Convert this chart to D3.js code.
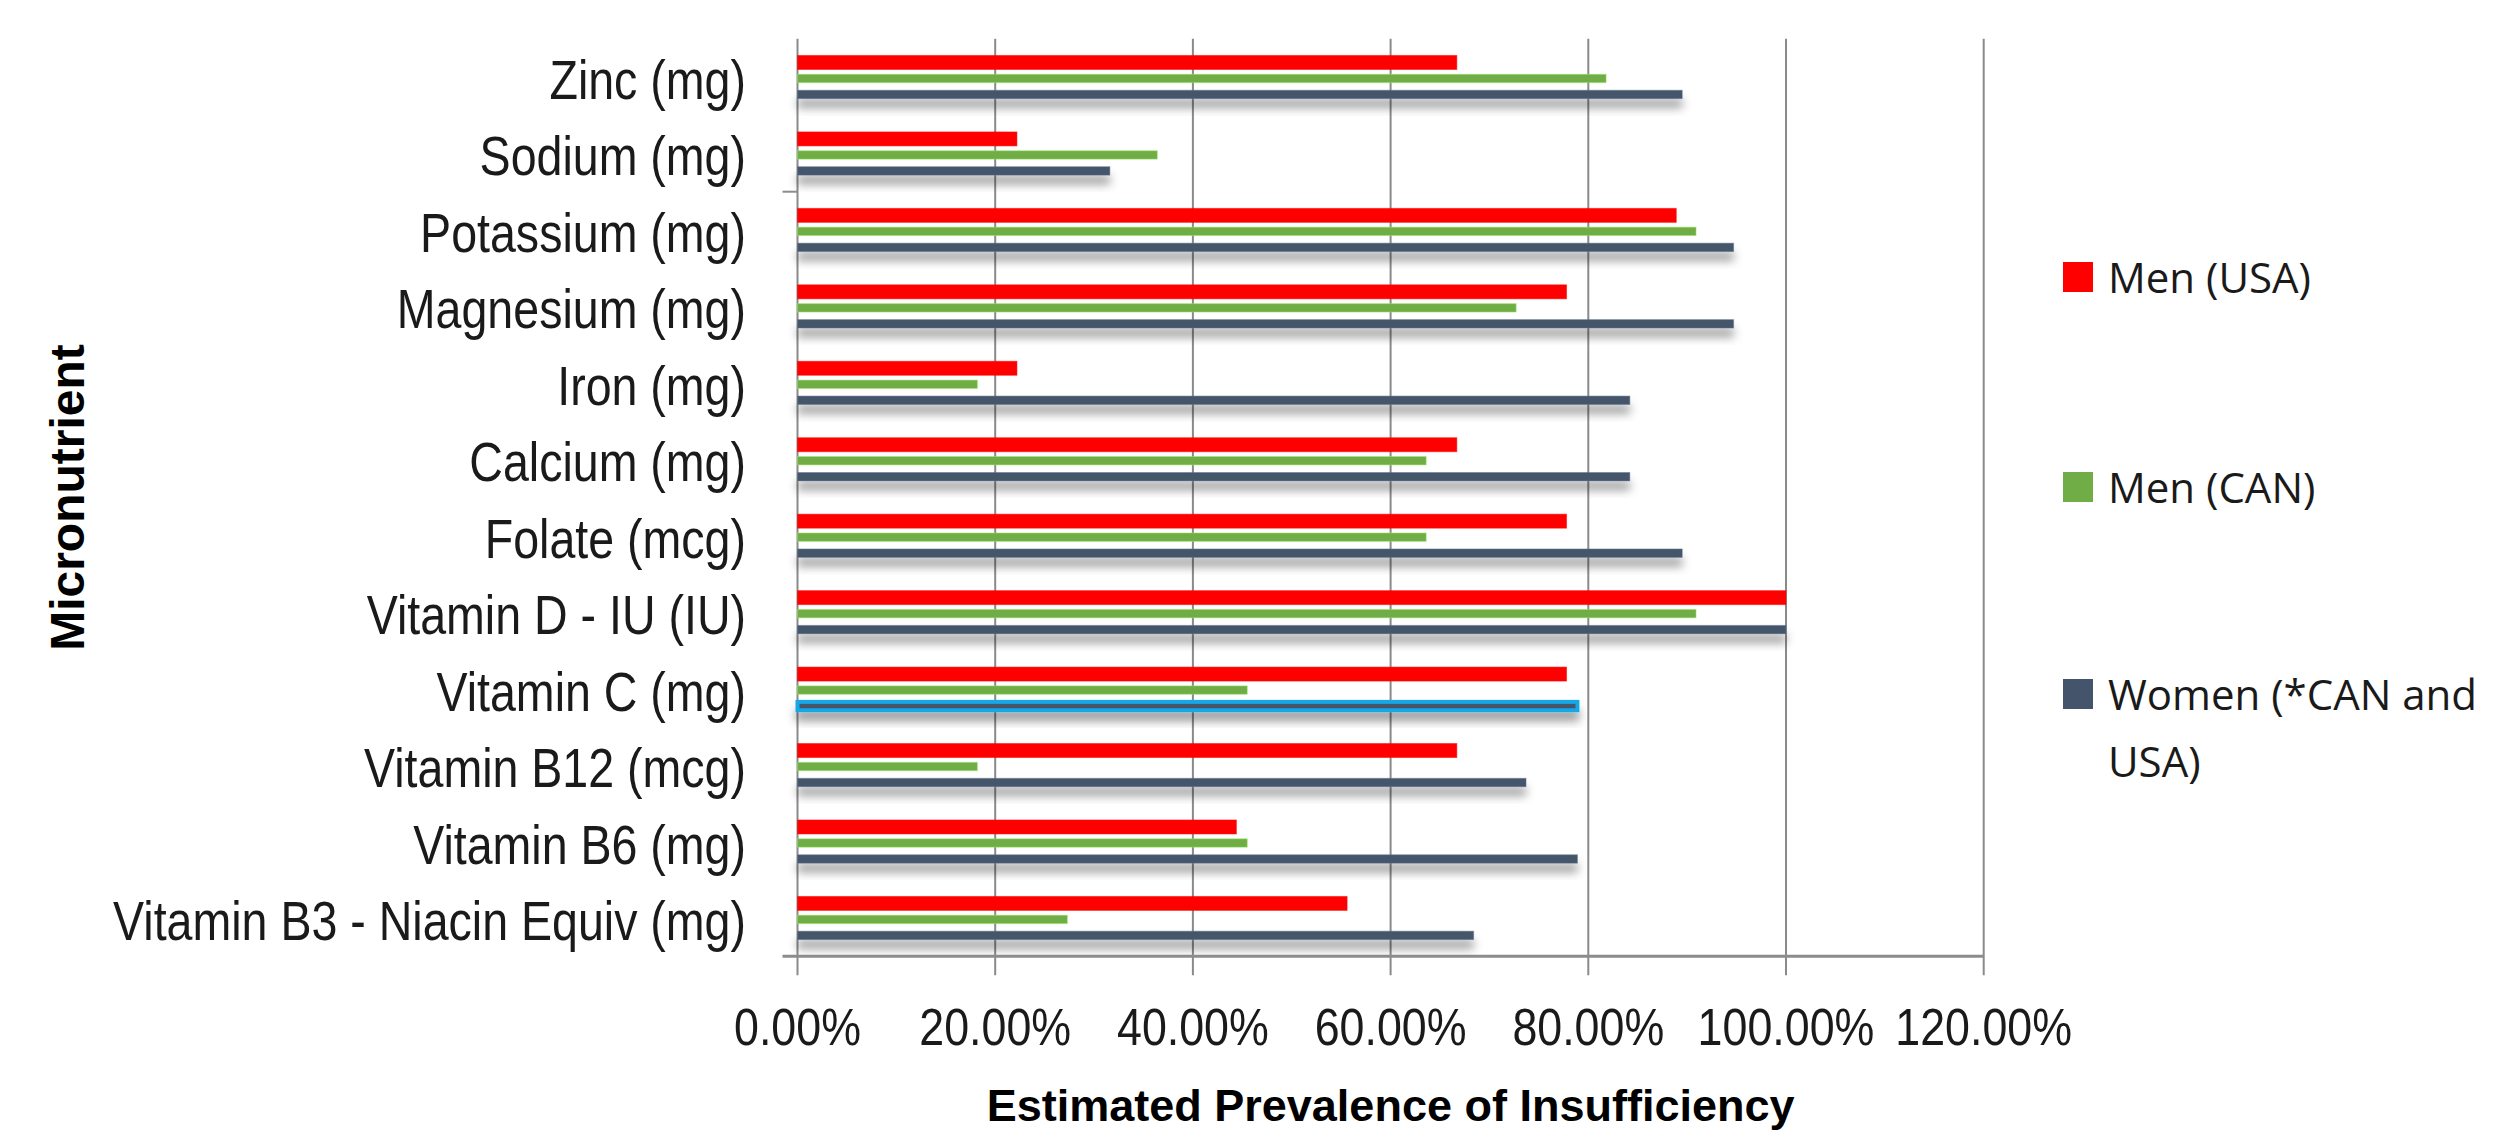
<!DOCTYPE html>
<html>
<head>
<meta charset="utf-8">
<script src="https://cdn.jsdelivr.net/npm/d3@7"></script>
<style>
  html, body { margin: 0; padding: 0; background: #fff; overflow: hidden; }
  svg { display: block; }
</style>
</head>
<body>
<svg id="chart" width="2499" height="1134"></svg>
<script>
// ---- data (Excel order: first category drawn at the bottom) ----
const categories = [
  "Vitamin B3 - Niacin Equiv (mg)",
  "Vitamin B6 (mg)",
  "Vitamin B12 (mcg)",
  "Vitamin C (mg)",
  "Vitamin D - IU (IU)",
  "Folate (mcg)",
  "Calcium (mg)",
  "Iron (mg)",
  "Magnesium (mg)",
  "Potassium (mg)",
  "Sodium (mg)",
  "Zinc (mg)"
];
const seriesNames = ["Men (USA)", "Men (CAN)", "Women (*CAN and USA)"];
const menUSA   = [55.6, 44.4, 66.7, 77.8, 100.0, 77.8, 66.7, 22.2, 77.8, 88.9, 22.2, 66.7];
const menCAN   = [27.3, 45.5, 18.2, 45.5, 90.9, 63.6, 63.6, 18.2, 72.7, 90.9, 36.4, 81.8];
const women    = [68.4, 78.9, 73.7, 78.9, 100.0, 89.5, 84.2, 84.2, 94.7, 94.7, 31.6, 89.5];
const xTicks   = [0, 20, 40, 60, 80, 100, 120];
const xTickLabels = ["0.00%", "20.00%", "40.00%", "60.00%", "80.00%", "100.00%", "120.00%"];
const highlighted = "Vitamin C (mg)"; // women bar selected (blue outline) in the original

const seriesValues = [menUSA, menCAN, women];
const colors = ["#FF0000", "#70AD47", "#44546A"];

// ---- layout ----
const svg = d3.select("#chart");
const plot = { left: 797.5, right: 1983.7, top: 38.8, bottom: 956.2 };

const x = d3.scaleLinear().domain([0, 120]).range([plot.left, plot.right]);
const y = d3.scaleBand()
  .domain(categories.slice().reverse())   // top to bottom: Zinc ... B3
  .range([plot.top, plot.bottom]);
const bw = y.bandwidth();
const sub = d3.scaleBand().domain(d3.range(3)).range([bw * 0.205, bw * 0.833]);
const thick = [14, 8.4, 8.4];

// defs: shadow
const defs = svg.append("defs");
const f = defs.append("filter").attr("id", "shadow")
  .attr("x", "-5%").attr("y", "-200%").attr("width", "110%").attr("height", "500%");
f.append("feDropShadow").attr("dx", 0).attr("dy", 9).attr("stdDeviation", 5)
  .attr("flood-color", "#000").attr("flood-opacity", 0.38);

// gridlines (including 0 line), extended below the axis as tick marks
svg.append("g").selectAll("line").data(xTicks).join("line")
  .attr("x1", d => x(d)).attr("x2", d => x(d))
  .attr("y1", plot.top).attr("y2", plot.bottom + 19)
  .attr("stroke", "#8a8a8a").attr("stroke-width", 2);

// bars
const gBars = svg.append("g");
categories.forEach((cat, ci) => {
  seriesValues.forEach((vals, si) => {
    const cy = y(cat) + sub(si) + sub.bandwidth() / 2;
    const h = thick[si];
    const isHi = (si === 2 && cat === highlighted);
    gBars.append("rect")
      .attr("x", x(0))
      .attr("y", cy - h / 2)
      .attr("width", x(vals[ci]) - x(0))
      .attr("height", h)
      .attr("fill", colors[si])
      .attr("stroke", isHi ? "#17A7E6" : d3.color(colors[si]).brighter(0.9))
      .attr("stroke-width", isHi ? 4 : 1)
      .attr("stroke-opacity", isHi ? 1 : 0.5)
      .attr("filter", si === 2 ? "url(#shadow)" : null);
  });
});

// x axis baseline
svg.append("line")
  .attr("x1", plot.left - 15).attr("x2", plot.right)
  .attr("y1", plot.bottom).attr("y2", plot.bottom)
  .attr("stroke", "#8c8c8c").attr("stroke-width", 3);
// single visible y tick (between Sodium and Potassium)
svg.append("line")
  .attr("x1", plot.left - 15).attr("x2", plot.left)
  .attr("y1", y("Sodium (mg)") + bw).attr("y2", y("Sodium (mg)") + bw)
  .attr("stroke", "#8c8c8c").attr("stroke-width", 2);

// condensed text helper (the original uses a narrow face, Calibri-like)
const baseFont = "'Liberation Sans', Arial, sans-serif";
function condensed(g, data, opts) {
  const sel = g.selectAll("text").data(data).join("text")
    .attr("text-anchor", opts.anchor)
    .attr("font-family", baseFont)
    .attr("font-size", opts.size)
    .attr("fill", "#1a1a1a")
    .text(opts.text);
  // width of the reference string at this size
  const ref = sel.filter((d, i) => i === opts.refIndex).node().getComputedTextLength();
  const sx = opts.refWidth / ref;
  sel.attr("transform", (d, i) => `translate(${opts.x(d, i)},${opts.y(d, i)}) scale(${sx},1)`);
  return sel;
}

// category labels
condensed(svg.append("g"), categories, {
  anchor: "end", size: 56, text: d => d,
  refIndex: 0, refWidth: 633,
  x: () => 746, y: d => y(d) + bw / 2 + 22
});

// x tick labels
condensed(svg.append("g"), xTicks, {
  anchor: "middle", size: 52, text: (d, i) => xTickLabels[i],
  refIndex: 0, refWidth: 127,
  x: d => x(d), y: () => 1045
});

// axis titles
svg.append("text")
  .attr("x", (plot.left + plot.right) / 2)
  .attr("y", 1121)
  .attr("text-anchor", "middle")
  .attr("font-family", baseFont)
  .attr("font-weight", "bold")
  .attr("font-size", 45)
  .attr("fill", "#000")
  .text("Estimated Prevalence of Insufficiency");

svg.append("text")
  .attr("transform", `translate(84, ${(plot.top + plot.bottom) / 2}) rotate(-90)`)
  .attr("text-anchor", "middle")
  .attr("font-family", baseFont)
  .attr("font-weight", "bold")
  .attr("font-size", 48)
  .attr("fill", "#000")
  .text("Micronutrient");

// legend
const legend = svg.append("g");
const legendY = [277, 487, 694];
seriesNames.forEach((name, i) => {
  legend.append("rect")
    .attr("x", 2063).attr("y", legendY[i] - 15)
    .attr("width", 30).attr("height", 30)
    .attr("fill", colors[i]);
  const t = legend.append("text")
    .attr("x", 2108).attr("y", legendY[i] + 16)
    .attr("font-family", "'Open Sans', sans-serif")
    .attr("font-size", 42)
    .attr("fill", "#1a1a1a");
  if (i === 2) {
    t.append("tspan").attr("x", 2108).text("Women (*CAN and");
    t.append("tspan").attr("x", 2108).attr("dy", 67).text("USA)");
  } else {
    t.text(name);
  }
});
</script>
</body>
</html>
